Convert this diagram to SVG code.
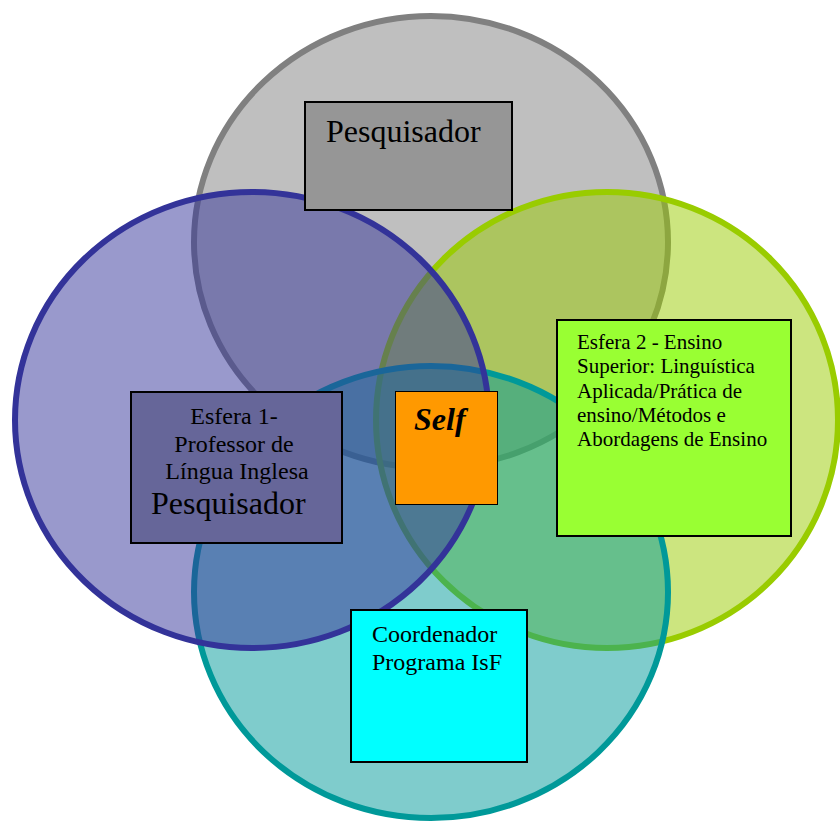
<svg xmlns="http://www.w3.org/2000/svg" width="840" height="821" viewBox="0 0 840 821">
<style>
.c{stroke-width:6}
.box{stroke:#000;stroke-width:2}
.t{fill:#000}
</style>
<rect width="840" height="821" fill="#fff"/>
<g id="circles">
<ellipse id="c-gray" class="c" cx="431" cy="242" rx="237" ry="226" fill="#808080" fill-opacity="0.5" stroke="#808080"/>
<ellipse id="c-green" class="c" cx="607" cy="420" rx="231" ry="228" fill="#99cc00" fill-opacity="0.5" stroke="#99cc00"/>
<ellipse id="c-teal" class="c" cx="431" cy="592" rx="237" ry="226" fill="#009999" fill-opacity="0.5" stroke="#009999"/>
<ellipse id="c-blue" class="c" cx="252" cy="420" rx="237" ry="228" fill="#333399" fill-opacity="0.5" stroke="#333399"/>
</g>
<g id="connectors"></g>
<g font-family="Liberation Serif, DejaVu Serif, serif">
<g id="n-pesquisador">
<rect class="box" x="305" y="102" width="207" height="108" fill="#969696"/>
<text class="t" x="326" y="142" font-size="32">Pesquisador</text>
</g>
<g id="n-esfera1">
<rect class="box" x="131" y="392" width="211" height="151" fill="#666699"/>
<text class="t" font-size="24" text-anchor="middle">
<tspan x="237" y="424">Esfera 1-</tspan>
<tspan x="237" y="452">Professor de</tspan>
<tspan x="237" y="479">Língua Inglesa</tspan>
</text>
<text class="t" x="151" y="514" font-size="32">Pesquisador</text>
</g>
<g id="n-self">
<rect x="395.5" y="391.5" width="102" height="113" fill="#ff9900" stroke="#000" stroke-width="1"/>
<text class="t" x="414" y="430" font-size="32" font-weight="bold" font-style="italic">Self</text>
</g>
<g id="n-esfera2">
<rect class="box" x="557" y="320" width="234" height="216" fill="#99ff33"/>
<text class="t" font-size="21">
<tspan x="577" y="349">Esfera 2 - Ensino</tspan>
<tspan x="577" y="373">Superior: Linguística</tspan>
<tspan x="577" y="397.5">Aplicada/Prática de</tspan>
<tspan x="577" y="422">ensino/Métodos e</tspan>
<tspan x="577" y="446">Abordagens de Ensino</tspan>
</text>
</g>
<g id="n-coordenador">
<rect class="box" x="351" y="610" width="176" height="152" fill="#00ffff"/>
<text class="t" font-size="24">
<tspan x="372" y="642">Coordenador</tspan>
<tspan x="372" y="670">Programa IsF</tspan>
</text>
</g>
</g>
</svg>
